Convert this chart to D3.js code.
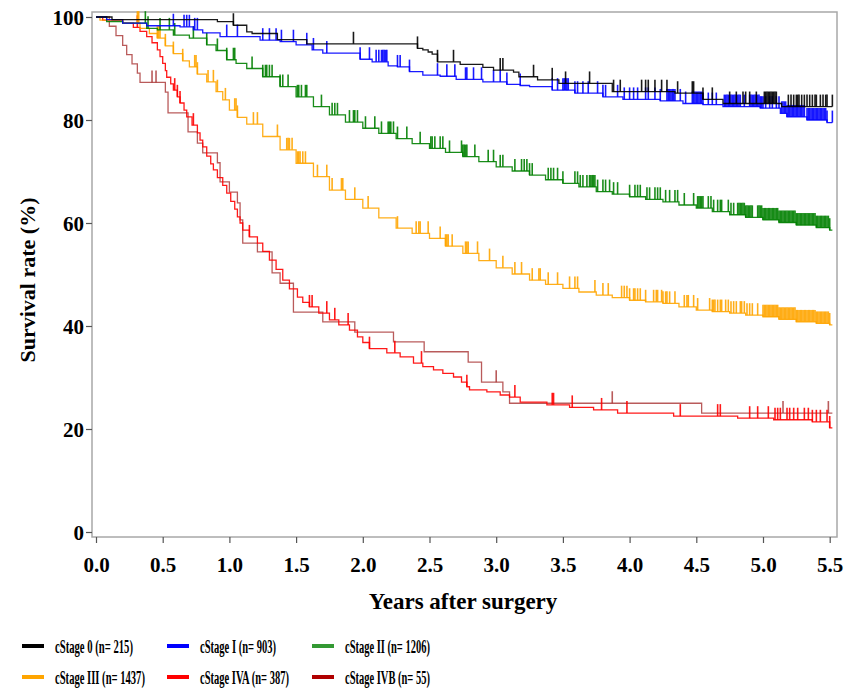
<!DOCTYPE html>
<html>
<head>
<meta charset="utf-8">
<script src="https://cdn.jsdelivr.net/npm/d3@7"></script>
<style>
body { margin: 0; background: #fff; }
svg { display: block; }
text { font-family: "Liberation Serif", "Times New Roman", serif; font-weight: bold; fill: #000; }
</style>
</head>
<body>
<svg width="864" height="691"></svg>
<script>
/*
DATI: [anni, sopravvivenza %]
*/
var stageNames = ["cStage 0", "cStage I", "cStage II", "cStage III", "cStage IVA", "cStage IVB"];
var stageN = [215, 903, 1206, 1437, 387, 55];

var survStage0 = [[0,100],[0.12,99.5],[0.91,99.1],[1.03,98.4],[1.13,97.1],[1.17,96.8],[1.36,95.6],[1.58,94.8],
	[2.41,93.9],[2.45,93.6],[2.49,93.2],[2.52,92.8],[2.56,91.3],[2.73,90.8],[2.90,90.2],[2.98,89.7],[3.13,89.3],
	[3.17,88.4],[3.31,87.8],[3.47,87.1],[3.87,85.5],[4.34,85.2],[4.55,84.0],[4.70,83.2],[5.14,82.6],[5.52,82.6]];
var survStage1 = [[0,100],[0.08,99.5],[0.20,98.8],[0.38,98.3],[0.63,98.1],[0.73,97.5],[0.80,96.9],[0.93,96.2],
	[1.23,95.5],[1.38,95.2],[1.50,94.6],[1.62,93.6],[1.70,93.0],[1.98,91.8],[2.07,91.3],[2.19,90.5],[2.26,90.3],
	[2.35,89.4],[2.45,88.7],[2.58,88.5],[2.70,87.9],[2.90,87.4],[3.08,86.9],[3.18,86.7],[3.25,86.5],[3.42,85.8],
	[3.59,85.2],[3.80,84.5],[3.95,84.0],[4.23,83.7],[4.40,83.2],[4.55,83.0],[4.70,82.6],[4.98,82.3],[5.13,81.3],
	[5.18,80.6],[5.33,80.0],[5.48,79.5],[5.52,79.5]];
var survStage2 = [[0,100],[0.08,99.1],[0.20,98.8],[0.38,97.8],[0.46,97.5],[0.58,96.5],[0.70,95.9],[0.83,94.6],
	[0.90,93.5],[0.98,91.7],[1.05,91.0],[1.13,90.0],[1.25,88.4],[1.38,86.5],[1.50,84.5],[1.63,82.6],[1.75,81.0],
	[1.87,79.6],[2.00,78.4],[2.12,77.4],[2.25,76.4],[2.37,75.4],[2.50,74.5],[2.62,73.7],[2.75,72.9],[2.87,71.9],
	[3.00,70.9],[3.12,70.1],[3.25,69.3],[3.37,68.4],[3.50,67.7],[3.62,67.0],[3.75,66.1],[3.87,65.6],[4.00,65.1],
	[4.12,64.6],[4.25,64.1],[4.37,63.5],[4.50,62.9],[4.62,62.2],[4.75,61.6],[4.87,61.1],[5.00,60.6],[5.12,60.1],
	[5.25,59.6],[5.40,59.1],[5.50,58.6],[5.52,58.6]];
var survStage3 = [[0,100],[0.03,99.4],[0.20,98.8],[0.33,97.8],[0.40,96.8],[0.46,95.9],[0.52,94.4],[0.58,92.9],
	[0.65,91.5],[0.70,90.3],[0.76,88.9],[0.83,87.4],[0.90,85.5],[0.95,83.9],[1.00,81.9],[1.06,80.5],[1.13,79.2],
	[1.25,76.8],[1.38,74.2],[1.50,71.6],[1.63,69.0],[1.75,66.4],[1.87,64.6],[2.00,62.9],[2.12,61.0],[2.25,59.0],
	[2.37,58.0],[2.50,57.0],[2.62,55.5],[2.75,54.1],[2.87,52.7],[3.00,51.3],[3.12,50.1],[3.25,48.9],[3.37,48.1],
	[3.50,47.3],[3.62,46.6],[3.75,46.0],[3.87,45.5],[4.00,45.0],[4.12,44.7],[4.25,44.4],[4.37,43.7],[4.50,43.1],
	[4.62,42.8],[4.75,42.5],[4.87,42.1],[5.00,41.8],[5.12,41.3],[5.25,40.8],[5.40,40.5],[5.50,40.2],[5.52,40.2]];
var survStage4a = [[0,100],[0.05,99.4],[0.20,98.8],[0.28,98.0],[0.33,97.2],[0.38,96.2],[0.42,95.0],[0.46,93.6],
	[0.48,92.3],[0.50,91.0],[0.52,89.6],[0.53,88.3],[0.56,87.0],[0.58,85.8],[0.61,84.5],[0.63,83.3],[0.66,81.9],
	[0.68,80.6],[0.72,79.0],[0.76,77.5],[0.78,76.1],[0.80,74.8],[0.83,73.0],[0.86,71.5],[0.88,70.3],[0.91,68.8],
	[0.95,67.3],[0.98,65.8],[1.01,64.2],[1.04,62.7],[1.06,61.2],[1.08,60.0],[1.10,58.6],[1.15,57.3],[1.21,56.1],
	[1.25,54.5],[1.30,52.8],[1.35,51.0],[1.40,48.9],[1.45,47.2],[1.51,45.6],[1.55,44.6],[1.60,43.7],[1.67,42.5],
	[1.75,41.2],[1.82,40.2],[1.90,39.2],[1.96,37.9],[2.00,36.8],[2.05,35.6],[2.18,34.8],[2.28,34.0],[2.38,32.8],
	[2.45,32.1],[2.53,31.5],[2.60,30.8],[2.68,30.1],[2.74,29.1],[2.78,28.2],[2.80,27.6],[2.93,27.2],[3.03,26.6],
	[3.10,26.2],[3.18,25.2],[3.38,24.7],[3.55,24.2],[3.73,23.7],[3.91,23.1],[4.33,22.5],[4.81,22.1],[5.08,21.8],
	[5.37,21.4],[5.50,20.2],[5.52,20.2]];
var survStage4b = [[0,100],[0.10,98.2],[0.15,96.4],[0.20,94.5],[0.23,92.7],[0.27,90.9],[0.31,89.1],[0.33,87.3],
	[0.52,85.4],[0.54,81.4],[0.69,77.7],[0.76,75.5],[0.80,73.6],[0.91,71.7],[0.93,68.0],[1.00,66.0],[1.06,63.9],
	[1.08,60.6],[1.10,56.1],[1.21,54.4],[1.32,50.3],[1.38,48.3],[1.48,42.7],[1.70,40.8],[1.94,38.8],[2.23,36.9],
	[2.46,35.0],[2.79,33.0],[2.89,29.1],[3.05,27.2],[3.10,25.0],[4.54,23.1],[5.52,23.1]];

/*
TEMPI DEI PAZIENTI CENSURATI (anni)
*/
var censStage0 = [1.03,1.93,2.41,2.56,2.68,3.03,3.05,3.28,3.42,3.52,3.70,3.88,3.93,4.09,4.12,4.14,4.19,4.24,
	4.28,4.36,4.47,4.48,4.55,4.62,4.75,4.80,4.85,4.87,4.90,4.95,5.01,5.02,5.03,5.04,5.05,5.06,5.07,5.08,5.09,
	5.10,5.19,5.21,5.23,5.25,5.26,5.27,5.29,5.31,5.33,5.35,5.37,5.39,5.40,5.43,5.45,5.47,5.48,5.52];
var censStage1 = [0.58,0.66,0.68,0.70,0.74,0.76,0.98,1.06,1.25,1.30,1.35,1.39,1.48,1.58,1.63,1.73,1.98,2.05,
	2.10,2.12,2.14,2.15,2.16,2.17,2.18,2.26,2.28,2.35,2.56,2.63,2.69,2.77,2.78,2.83,2.89,2.98,3.03,3.08,3.18,
	3.42,3.46,3.50,3.51,3.52,3.53,3.54,3.59,3.61,3.65,3.69,3.76,3.80,3.82,3.91,3.96,4.00,4.03,4.06,4.12,4.14,
	4.19,4.23,4.28,4.29,4.30,4.31,4.32,4.33,4.34,4.38,4.42,4.47,4.48,4.49,4.50,4.51,4.52,4.53,4.54,4.55,4.59,
	4.62,4.65,4.71,4.72,4.73,4.74,4.75,4.76,4.77,4.78,4.79,4.80,4.81,4.82,4.83,4.86,4.90,4.91,4.92,4.93,4.94,
	4.95,4.96,4.97,4.98,4.99,5.00,5.02,5.05,5.07,5.10,5.12,5.14,5.15,5.16,5.17,5.18,5.19,5.20,5.21,5.22,5.23,
	5.24,5.25,5.26,5.27,5.28,5.29,5.30,5.31,5.33,5.34,5.35,5.36,5.37,5.38,5.39,5.40,5.41,5.42,5.43,5.44,5.45,
	5.46,5.47,5.48,5.52];
var censStage2 = [0.37,0.39,0.48,0.55,0.59,0.73,0.83,0.91,0.98,1.03,1.04,1.17,1.25,1.27,1.28,1.30,1.32,1.38,
	1.40,1.44,1.51,1.52,1.54,1.57,1.58,1.69,1.77,1.79,1.81,1.90,1.93,1.94,1.96,2.02,2.09,2.14,2.19,2.20,2.21,
	2.23,2.26,2.33,2.43,2.51,2.52,2.54,2.58,2.60,2.65,2.74,2.75,2.76,2.77,2.78,2.84,2.94,2.98,3.03,3.05,3.14,
	3.19,3.21,3.23,3.25,3.27,3.39,3.41,3.43,3.46,3.50,3.59,3.61,3.63,3.65,3.68,3.70,3.71,3.72,3.73,3.74,3.76,
	3.80,3.82,3.85,3.88,3.91,4.00,4.04,4.06,4.08,4.13,4.15,4.19,4.21,4.23,4.27,4.30,4.34,4.36,4.41,4.48,4.51,
	4.52,4.53,4.54,4.55,4.59,4.61,4.63,4.66,4.68,4.69,4.74,4.76,4.78,4.81,4.82,4.83,4.84,4.85,4.86,4.87,4.88,
	4.89,4.90,4.91,4.92,4.96,4.97,4.98,4.99,5.00,5.01,5.02,5.03,5.04,5.05,5.06,5.07,5.08,5.09,5.10,5.11,5.12,
	5.13,5.14,5.15,5.16,5.17,5.18,5.19,5.20,5.21,5.22,5.23,5.24,5.25,5.26,5.27,5.28,5.29,5.30,5.31,5.32,5.33,
	5.34,5.35,5.36,5.37,5.38,5.39,5.40,5.41,5.42,5.43,5.44,5.45,5.46,5.47,5.48,5.49,5.50];
var censStage3 = [0.31,0.32,0.46,0.47,0.48,0.52,0.58,0.65,0.74,0.75,0.76,0.84,0.88,0.91,0.97,1.04,1.05,1.06,
	1.18,1.21,1.36,1.43,1.44,1.45,1.47,1.51,1.52,1.53,1.55,1.57,1.66,1.73,1.77,1.84,1.85,1.94,2.04,2.26,2.40,
	2.42,2.43,2.49,2.58,2.62,2.63,2.64,2.67,2.77,2.78,2.79,2.86,2.95,3.05,3.14,3.19,3.27,3.32,3.33,3.39,3.46,
	3.55,3.59,3.61,3.74,3.80,3.84,3.94,3.96,3.98,4.00,4.03,4.04,4.06,4.08,4.12,4.18,4.20,4.21,4.24,4.25,4.27,
	4.28,4.30,4.34,4.41,4.43,4.44,4.48,4.51,4.60,4.62,4.63,4.64,4.66,4.68,4.69,4.72,4.74,4.76,4.78,4.80,4.83,
	4.84,4.86,4.88,4.90,4.92,4.96,5.00,5.01,5.02,5.03,5.04,5.05,5.06,5.07,5.08,5.09,5.10,5.11,5.12,5.13,5.14,
	5.15,5.16,5.17,5.18,5.19,5.20,5.21,5.22,5.23,5.24,5.25,5.26,5.27,5.28,5.29,5.30,5.31,5.32,5.33,5.34,5.35,
	5.36,5.37,5.38,5.39,5.40,5.41,5.42,5.43,5.44,5.45,5.46,5.47,5.48,5.49,5.50];
var censStage4a = [0.31,0.59,0.61,0.63,0.73,1.15,1.60,1.62,1.73,1.79,1.89,2.05,2.24,2.44,2.78,3.14,3.42,3.43,
	3.57,3.79,3.98,4.38,4.66,4.68,4.90,4.96,5.04,5.09,5.11,5.13,5.18,5.20,5.23,5.26,5.31,5.34,5.37,5.40,5.43,
	5.48,5.50];
var censStage4b = [0.42,0.45,3.00,3.87,5.15,5.49];

var xTicks = [0, 0.5, 1, 1.5, 2, 2.5, 3, 3.5, 4, 4.5, 5, 5.5];
var yTicks = [0, 20, 40, 60, 80, 100];

var curveColours = ["#000000", "#0000ff", "#008000", "#ffa500", "#ff0000", "#a83232"];
var legendColours = ["#000000", "#0000ff", "#339933", "#ffa500", "#ff0000", "#b00000"];

/*
RITORNA LA SOPRAVVIVENZA AL TEMPO t (funzione a gradini)
*/
function valoreAl(curva, t) {
	var v = curva[0][1];
	for (var i = 0; i < curva.length; i++) {
		if (curva[i][0] <= t) v = curva[i][1];
	}
	return v;
}

var svg = d3.select("svg");

var x = d3.scaleLinear().domain([0, 5.5]).range([96, 829.7]);
var y = d3.scaleLinear().domain([0, 100]).range([532, 17]);

// cornice
svg.append("rect")
	.attr("x", 92).attr("y", 12)
	.attr("width", 745).attr("height", 525)
	.attr("fill", "none")
	.attr("stroke", "#a8a8a8")
	.attr("stroke-width", 1.5);

// assi
var xAxis = svg.append("g")
	.attr("transform", "translate(0,537)")
	.call(d3.axisBottom(x).tickValues(xTicks).tickFormat(d3.format(".1f")).tickSize(6));
var yAxis = svg.append("g")
	.attr("transform", "translate(92,0)")
	.call(d3.axisLeft(y).tickValues(yTicks).tickSize(6));

[xAxis, yAxis].forEach(function(a) {
	a.select(".domain").remove();
	a.selectAll(".tick line").attr("stroke", "#555").attr("stroke-width", 1.2);
	a.selectAll(".tick text").style("font-size", "21px").attr("fill", "#000");
});
xAxis.selectAll(".tick text").attr("y", 20).attr("dy", "0.71em");
yAxis.selectAll(".tick text").attr("x", -8).attr("dy", "0.35em");

// titoli assi
svg.append("text")
	.attr("x", 463).attr("y", 609)
	.attr("text-anchor", "middle")
	.style("font-size", "23px")
	.text("Years after surgery");
svg.append("text")
	.attr("transform", "translate(35,280) rotate(-90)")
	.attr("text-anchor", "middle")
	.style("font-size", "22px")
	.text("Survival rate (%)");

/*
CURVE DI KAPLAN-MEIER E TACCHE DI CENSURA
*/
var curve = [survStage0, survStage1, survStage2, survStage3, survStage4a, survStage4b];
var censure = [censStage0, censStage1, censStage2, censStage3, censStage4a, censStage4b];

var linea = d3.line()
	.x(function(d) { return x(d[0]); })
	.y(function(d) { return y(d[1]); })
	.curve(d3.curveStepAfter);

var ordine = [5, 4, 3, 2, 1, 0];
ordine.forEach(function(k) {
	var g = svg.append("g").attr("class", "stage" + k);
	g.append("path")
		.datum(curve[k])
		.attr("d", linea)
		.attr("fill", "none")
		.attr("stroke", curveColours[k])
		.attr("stroke-width", 1.3)
		.attr("stroke-opacity", k == 5 ? 0.8 : 0.9);
	g.selectAll("line")
		.data(censure[k])
		.enter().append("line")
		.attr("x1", function(d) { return x(d); })
		.attr("x2", function(d) { return x(d); })
		.attr("y1", function(d) { return y(valoreAl(curve[k], d)); })
		.attr("y2", function(d) { return y(valoreAl(curve[k], d)) - 12; })
		.attr("stroke", curveColours[k])
		.attr("stroke-width", 1.6)
		.attr("stroke-opacity", k == 5 ? 0.8 : 0.9);
});

/*
LEGENDA
*/
var legX = [22, 167, 312];
var legY = [646, 677];
var legW = [78, 76, 85, 90, 89, 85];
var legenda = svg.append("g").selectAll("g")
	.data(stageNames)
	.enter().append("g")
	.attr("transform", function(d, i) {
		return "translate(" + legX[i % 3] + "," + legY[Math.floor(i / 3)] + ")";
	});
legenda.append("line")
	.attr("x1", 0).attr("x2", 22)
	.attr("y1", 0).attr("y2", 0)
	.attr("stroke", function(d, i) { return legendColours[i]; })
	.attr("stroke-width", 4);
legenda.append("text")
	.style("font-size", "19px")
	.text(function(d, i) { return d + " (n= " + stageN[i] + ")"; })
	.attr("transform", function(d, i) {
		var w = this.getComputedTextLength();
		return "translate(33,7) scale(" + (legW[i] / w) + ",1)";
	});
</script>
</body>
</html>
